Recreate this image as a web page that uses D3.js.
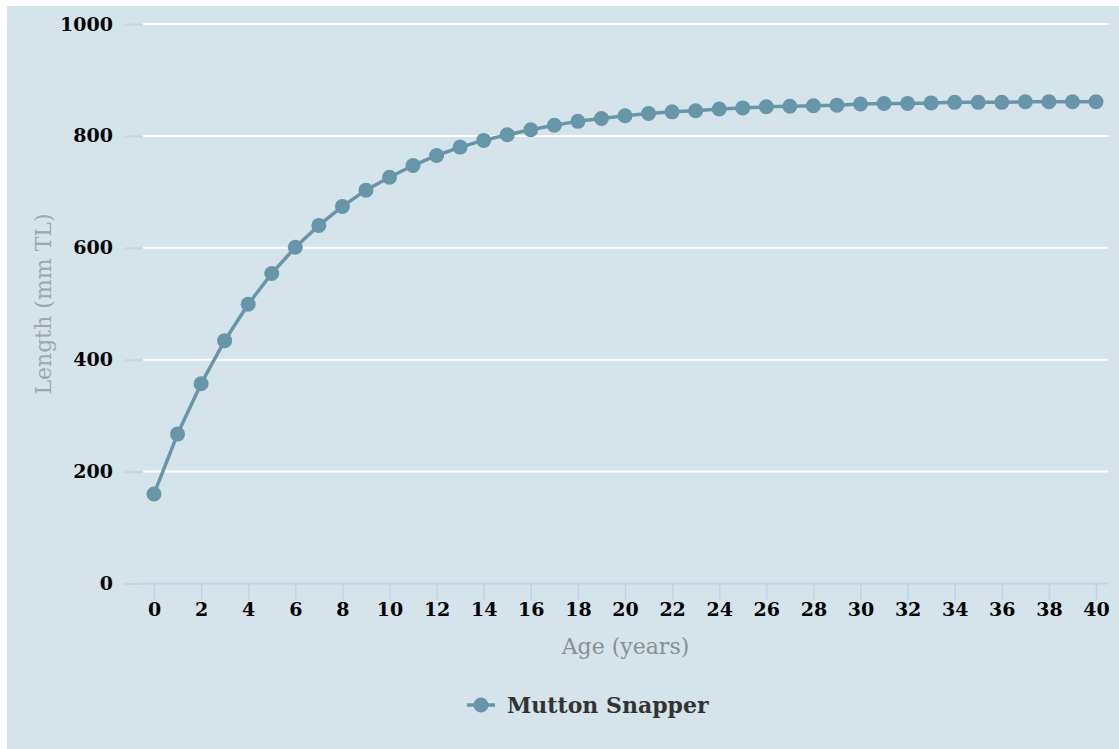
<!DOCTYPE html>
<html>
<head>
<meta charset="utf-8">
<script src="https://cdn.jsdelivr.net/npm/d3@7"></script>
<style>
  html, body { margin: 0; padding: 0; background: #ffffff; }
  svg { display: block; }
</style>
</head>
<body>
<svg id="chart" width="1119" height="749"></svg>
<script>
// ---- data ----
const ages = d3.range(0, 41);
const lengths = [160, 267, 357, 434, 499, 554, 601, 640, 674, 703, 726, 747, 765, 780, 792,
                 802, 811, 819, 826, 831, 836, 840, 843, 845, 848, 850, 852, 853, 854, 855,
                 857, 858, 858, 859, 860, 860, 860, 861, 861, 861, 861];
const seriesName = "Mutton Snapper";
const xTicks = d3.range(0, 41, 2);
const yTicks = [0, 200, 400, 600, 800, 1000];
const xTitle = "Age (years)";
const yTitle = "Length (mm TL)";

// ---- layout ----
const W = 1119, H = 749;
const plotLeft = 143, plotRight = 1108, plotTop = 24, plotBottom = 583.5;
const color = "#6896a9";
const fontFam = "'DejaVu Serif', serif";

const svg = d3.select("#chart");

svg.append("rect").attr("x", 7).attr("y", 6).attr("width", W - 7).attr("height", H - 6)
  .attr("fill", "#d5e3ea");

const x = d3.scaleLinear().domain([0, 40]).range([154, 1096]);
const y = d3.scaleLinear().domain([0, 1000]).range([plotBottom, plotTop]);

// grid lines
svg.append("g").selectAll("line").data(yTicks.filter(d => d > 0)).join("line")
  .attr("x1", plotLeft).attr("x2", plotRight)
  .attr("y1", d => y(d)).attr("y2", d => y(d))
  .attr("stroke", "#ffffff").attr("stroke-width", 2);

// y axis
const yAxis = svg.append("g").attr("transform", `translate(${plotLeft},0)`)
  .call(d3.axisLeft(y).tickValues(yTicks).tickSize(18).tickPadding(12).tickFormat(d3.format("d")));
yAxis.select(".domain").remove();
yAxis.selectAll(".tick line").attr("stroke", "#cfd3d6").attr("stroke-width", 2);
yAxis.selectAll(".tick text")
  .attr("font-family", fontFam).attr("font-weight", "bold").attr("font-size", 19)
  .attr("fill", "#000");

// x axis
const xAxis = svg.append("g").attr("transform", `translate(0,${plotBottom})`)
  .call(d3.axisBottom(x).tickValues(xTicks).tickSize(16).tickPadding(3).tickSizeOuter(0));
xAxis.select(".domain").attr("d", `M${plotLeft},0H${plotRight}`)
  .attr("stroke", "#c3d2e2").attr("stroke-width", 2);
xAxis.selectAll(".tick line").attr("stroke", "#c3d2e2").attr("stroke-width", 1.5);
xAxis.selectAll(".tick text")
  .attr("font-family", fontFam).attr("font-weight", "bold").attr("font-size", 19)
  .attr("fill", "#000");

// axis titles
svg.append("text").attr("x", (plotLeft + plotRight) / 2).attr("y", 654)
  .attr("text-anchor", "middle").attr("font-family", fontFam).attr("font-size", 22)
  .attr("fill", "#8a8f93").text(xTitle);
svg.append("text").attr("transform", `translate(51,304) rotate(-90)`)
  .attr("text-anchor", "middle").attr("font-family", fontFam).attr("font-size", 22)
  .attr("fill", "#a0a6aa").text(yTitle);

// line + markers
const data = ages.map((a, i) => ({ age: a, len: lengths[i] }));
svg.append("path").datum(data)
  .attr("d", d3.line().x(d => x(d.age)).y(d => y(d.len)))
  .attr("fill", "none").attr("stroke", color).attr("stroke-width", 3.5)
  .attr("stroke-linejoin", "round");
svg.append("g").selectAll("circle").data(data).join("circle")
  .attr("cx", d => x(d.age)).attr("cy", d => y(d.len)).attr("r", 7.5)
  .attr("fill", color);

// legend
const lg = svg.append("g").attr("transform", "translate(467,705)");
lg.append("line").attr("x1", 0).attr("x2", 28).attr("y1", 0).attr("y2", 0)
  .attr("stroke", color).attr("stroke-width", 3.5);
lg.append("circle").attr("cx", 14).attr("cy", 0).attr("r", 7.5).attr("fill", color);
lg.append("text").attr("x", 40).attr("y", 8)
  .attr("font-family", fontFam).attr("font-weight", "bold").attr("font-size", 22)
  .attr("fill", "#333333").text(seriesName);
</script>
</body>
</html>
